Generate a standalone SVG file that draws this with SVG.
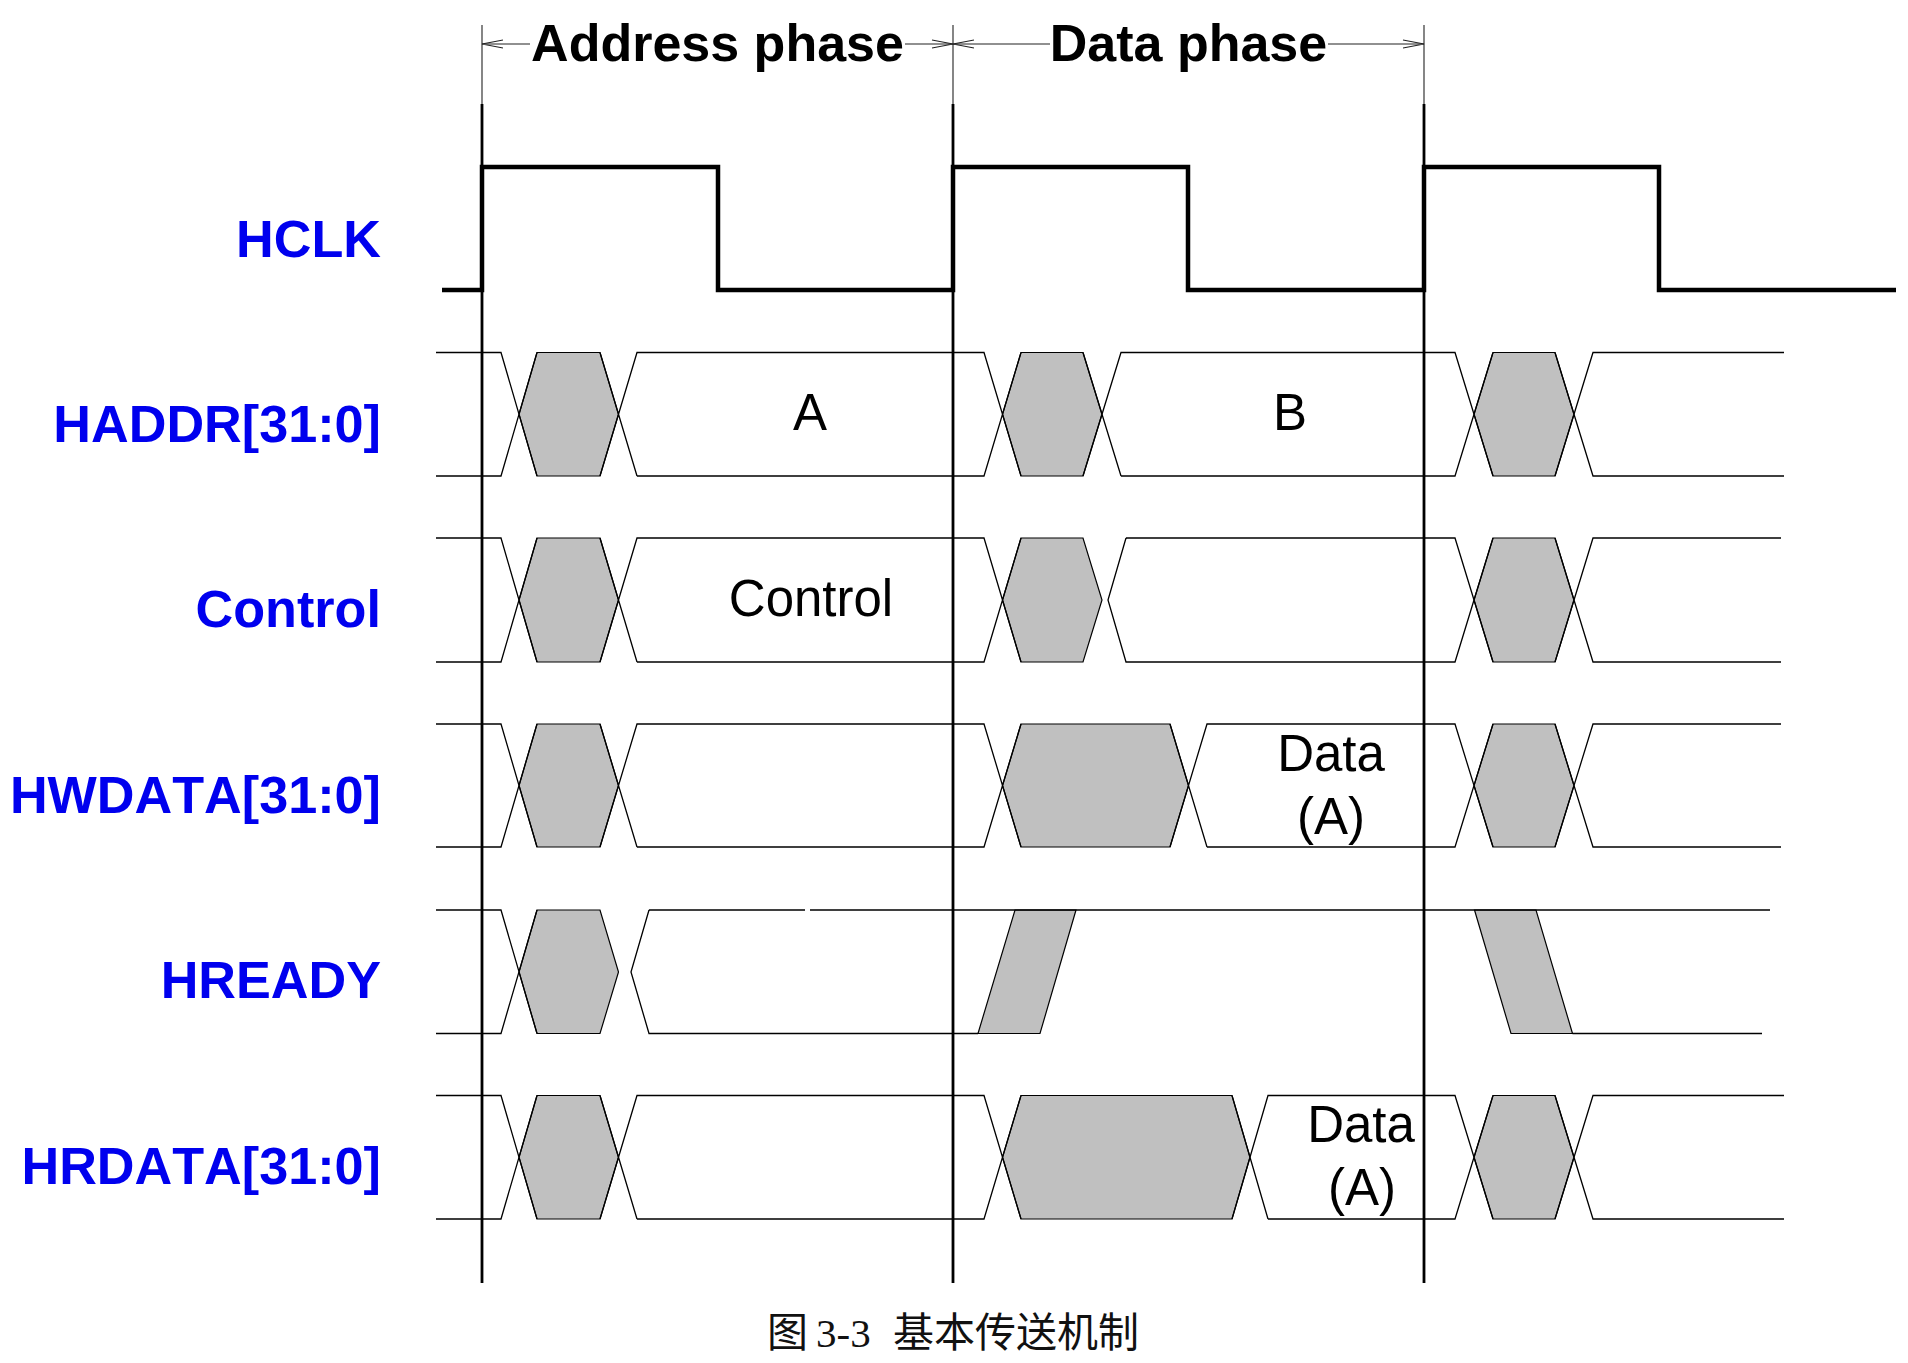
<svg xmlns="http://www.w3.org/2000/svg" width="1908" height="1363" viewBox="0 0 1908 1363">
<defs>
<style>
.lbl{font-family:"Liberation Sans",Arial,sans-serif;font-weight:bold;font-size:52.2px;fill:#0000EE;text-anchor:end;font-kerning:none}
.ttl{font-family:"Liberation Sans",Arial,sans-serif;font-weight:bold;font-size:52px;fill:#000;text-anchor:middle;font-kerning:none}
.val{font-family:"Liberation Sans",Arial,sans-serif;font-size:51px;fill:#000;text-anchor:middle;font-kerning:none}
.cap{font-family:"Liberation Serif","Noto Sans CJK SC",serif;font-size:41px;fill:#111}
.bus{fill:none;stroke:#000;stroke-width:1.3}
.sh{fill:#C0C0C0;stroke:#000;stroke-width:1.2;stroke-linejoin:miter}
.clk{fill:none;stroke:#000;stroke-width:4.5}
.edge{stroke:#000;stroke-width:2.8}
.dim{fill:none;stroke:#222;stroke-width:1.1}
</style>
</defs>
<rect width="1908" height="1363" fill="#fff"/>

<g id="phases">
<line class="dim" x1="482" y1="25" x2="482" y2="104"/>
<line class="dim" x1="953" y1="25" x2="953" y2="104"/>
<line class="dim" x1="1424" y1="25" x2="1424" y2="104"/>
<line class="dim" x1="482" y1="44" x2="530" y2="44"/>
<line class="dim" x1="905" y1="44" x2="953" y2="44"/>
<line class="dim" x1="953" y1="44" x2="1050" y2="44"/>
<line class="dim" x1="1328" y1="44" x2="1424" y2="44"/>
<path class="dim" d="M503,40 L482,44 L503,48 M932,40 L953,44 L932,48 M974,40 L953,44 L974,48 M1403,40 L1424,44 L1403,48"/>
<text class="ttl" x="717.5" y="61">Address phase</text>
<text class="ttl" x="1188.5" y="61">Data phase</text>
</g>

<g id="edges">
<line class="edge" x1="482" y1="104" x2="482" y2="1283"/>
<line class="edge" x1="953" y1="104" x2="953" y2="1283"/>
<line class="edge" x1="1424" y1="104" x2="1424" y2="1283"/>
</g>

<g id="hclk">
<text class="lbl" x="381" y="257">HCLK</text>
<path class="clk" d="M442,290 L482,290 L482,167 L718,167 L718,290 L953,290 L953,167 L1188,167 L1188,290 L1424,290 L1424,167 L1659,167 L1659,290 L1896,290"/>
</g>

<g id="haddr">
<text class="lbl" x="381" y="442">HADDR[31:0]</text>
<path class="sh" d="M537,352.5 L600,352.5 L618.5,414.25 L600,476 L537,476 L519,414.25 Z"/>
<path class="sh" d="M1021,352.5 L1083,352.5 L1102,414.25 L1083,476 L1021,476 L1002.5,414.25 Z"/>
<path class="sh" d="M1493,352.5 L1555,352.5 L1574,414.25 L1555,476 L1493,476 L1474,414.25 Z"/>
<path class="bus" d="M436,352.5 L501,352.5 L537,476 M436,476 L501,476 L537,352.5 M600,352.5 L637,476 M600,476 L637,352.5 L984,352.5 L1021,476 M637,476 L984,476 L1021,352.5 M1083,352.5 L1121,476 M1083,476 L1121,352.5 L1455,352.5 L1493,476 M1121,476 L1455,476 L1493,352.5 M1555,352.5 L1593,476 L1784,476 M1555,476 L1593,352.5 L1784,352.5"/>
<text class="val" x="810" y="430">A</text>
<text class="val" x="1290" y="430">B</text>
</g>

<g id="control">
<text class="lbl" x="381" y="627">Control</text>
<path class="sh" d="M537,538 L600,538 L618.5,600 L600,662 L537,662 L519,600 Z"/>
<path class="sh" d="M1021,538 L1083,538 L1102,600 L1083,662 L1021,662 L1002.5,600 Z"/>
<path class="sh" d="M1493,538 L1555,538 L1574,600 L1555,662 L1493,662 L1474,600 Z"/>
<path class="bus" d="M436,538 L501,538 L537,662 M436,662 L501,662 L537,538 M600,538 L637,662 M600,662 L637,538 L984,538 L1021,662 M637,662 L984,662 L1021,538 M1126,538 L1108,600 L1126,662 L1455,662 L1493,538 M1126,538 L1455,538 L1493,662 M1555,538 L1593,662 L1781,662 M1555,662 L1593,538 L1781,538"/>
<text class="val" x="811" y="616">Control</text>
</g>

<g id="hwdata">
<text class="lbl" x="381" y="813">HWDATA[31:0]</text>
<path class="sh" d="M537,724 L600,724 L618.5,785.5 L600,847 L537,847 L519,785.5 Z"/>
<path class="sh" d="M1021,724 L1170,724 L1188.5,785.5 L1170,847 L1021,847 L1002.5,785.5 Z"/>
<path class="sh" d="M1493,724 L1555,724 L1574,785.5 L1555,847 L1493,847 L1474,785.5 Z"/>
<path class="bus" d="M436,724 L501,724 L537,847 M436,847 L501,847 L537,724 M600,724 L637,847 M600,847 L637,724 L984,724 L1021,847 M637,847 L984,847 L1021,724 M1170,724 L1207,847 M1170,847 L1207,724 L1455,724 L1493,847 M1207,847 L1455,847 L1493,724 M1555,724 L1593,847 L1781,847 M1555,847 L1593,724 L1781,724"/>
<text class="val" x="1331" y="771">Data</text>
<text class="val" x="1331" y="834">(A)</text>
</g>

<g id="hready">
<text class="lbl" x="381" y="998">HREADY</text>
<path class="sh" d="M537,910 L600,910 L618.5,972 L600,1033.5 L537,1033.5 L519,972 Z"/>
<path class="sh" d="M978,1033.5 L1040,1033.5 L1076,910 L1015,910 Z"/>
<path class="sh" d="M1474.5,910 L1536,910 L1572.5,1033.5 L1511,1033.5 Z"/>
<path class="bus" d="M436,910 L501,910 L537,1033.5 M436,1033.5 L501,1033.5 L537,910 M649,910 L631,972 L649,1033.5 L978,1033.5 M649,910 L805,910 M810,910 L1770,910 M1572.5,1033.5 L1762,1033.5"/>
</g>

<g id="hrdata">
<text class="lbl" x="381" y="1184">HRDATA[31:0]</text>
<path class="sh" d="M537,1095.5 L600,1095.5 L618.5,1157.25 L600,1219 L537,1219 L519,1157.25 Z"/>
<path class="sh" d="M1021,1095.5 L1232,1095.5 L1250,1157.25 L1232,1219 L1021,1219 L1002.5,1157.25 Z"/>
<path class="sh" d="M1493,1095.5 L1555,1095.5 L1574,1157.25 L1555,1219 L1493,1219 L1474,1157.25 Z"/>
<path class="bus" d="M436,1095.5 L501,1095.5 L537,1219 M436,1219 L501,1219 L537,1095.5 M600,1095.5 L637,1219 M600,1219 L637,1095.5 L984,1095.5 L1021,1219 M637,1219 L984,1219 L1021,1095.5 M1232,1095.5 L1268,1219 M1232,1219 L1268,1095.5 L1455,1095.5 L1493,1219 M1268,1219 L1455,1219 L1493,1095.5 M1555,1095.5 L1593,1219 L1784,1219 M1555,1219 L1593,1095.5 L1784,1095.5"/>
<text class="val" x="1361" y="1142">Data</text>
<text class="val" x="1362" y="1205">(A)</text>
</g>

<g id="caption">
<text class="cap" y="1347"><tspan x="767">图</tspan><tspan x="816">3-3</tspan><tspan x="893">基本传送机制</tspan></text>
</g>
</svg>
